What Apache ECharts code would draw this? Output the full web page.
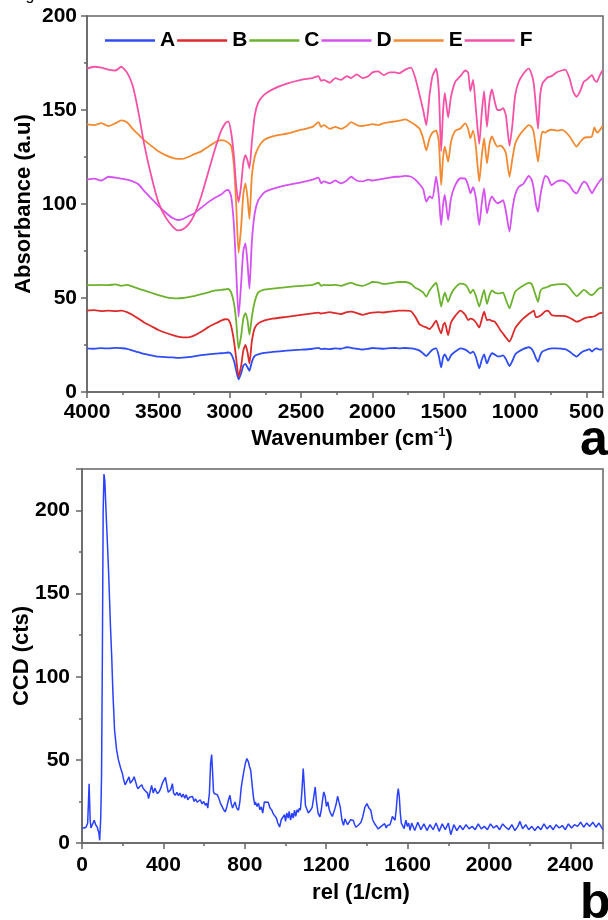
<!DOCTYPE html>
<html>
<head>
<meta charset="utf-8">
<script src="https://cdn.jsdelivr.net/npm/echarts@6/dist/echarts.min.js"></script>
<style>
  html, body { margin: 0; padding: 0; background: #fff; }
  #main { width: 608px; height: 920px; }
</style>
</head>
<body>
<div id="main"></div>
<script>
// FTIR (a): shared wavenumber grid, one absorbance list per sample
var wn = [4000,3950,3900,3850,3800,3760,3720,3680,3640,3600,
  3550,3500,3450,3400,3365,3330,3290,3250,3200,3150,
  3100,3060,3030,3010,2990,2970,2955,2938,2920,2905,
  2890,2875,2862,2845,2825,2800,2760,2700,2600,2500,
  2420,2378,2360,2340,2300,2260,2220,2180,2150,2110,
  2070,2030,2000,1960,1920,1880,1840,1814,1770,1730,
  1700,1670,1645,1623,1600,1580,1554,1535,1519,1505,
  1493,1470,1450,1420,1384,1350,1330,1314,1295,1275,
  1252,1235,1218,1198,1180,1163,1145,1125,1105,1085,
  1065,1040,1020,1000,975,945,905,885,870,855,
  840,825,810,790,770,745,710,675,650,620,
  595,570,545,520,500,480,462,445,428,410,
  389];

var sampleA = [23.2,23,23.3,23.2,23.5,23.3,23,22,21.2,20.3,
  19.5,18.8,18.5,18.4,18.2,18.3,18.6,19,19.6,20,
  20.4,20.6,20.8,21,20.2,16.5,11.5,6.7,10,14,
  14.9,13,11.3,16,19.2,20,20.8,21.3,22,22.5,
  23,23.5,22.8,23,22.8,23.2,23,23.8,23.5,23,
  22.6,23,23.4,23.2,23,23.3,23.4,23.2,23.4,23.2,
  22.8,22,20.5,19.1,21,22.5,23.2,19,13.1,18.5,
  20,16.7,19.5,21.5,23.2,22.5,21.5,20.6,21.5,18.5,
  12.6,17,20,15.2,18.5,20.6,20,19,19,19.5,
  17.5,13.8,16.5,20,21.5,22.8,23.8,23,21,18,
  16.1,19.5,21.5,22.2,22.8,23.2,23.2,23,22.8,21.5,
  20,18.8,20.5,21.8,22.3,22.8,21.5,22.8,23.2,22.5,
  22.8];

var sampleB = [43.3,43.5,43,43.3,43,43.3,42.5,41,39,37,
  35,33,31.5,30.2,29.5,29.1,29.1,30,32,34.5,
  36.5,38,38.7,38.5,35,27,18,8.2,14,22,
  25,21,15.2,27,34,36.5,38,39,40,41,
  41.8,42.2,41.7,42,42.5,42,41.5,42.5,42.7,42,
  41,41.8,42.2,42.5,42.3,42.7,43,43.3,43.3,43,
  40,36,35,34.4,33.5,35,37.9,34,31.2,35.5,
  36.9,30.3,37,40.5,43.3,41,38.3,39,38.5,37,
  34.4,38.5,42.7,38.3,38.5,37.8,37.5,35.5,33,31,
  29,26.8,30,34,36.5,39,41.5,42.5,43.3,39.8,
  40,40.5,41.5,43,43.3,41,40.5,40.5,40.4,39.5,
  38.5,37.4,38,39,39.5,39.8,40,40.3,41,41.8,
  42.2];

var sampleC = [57,56.8,57,56.8,57.3,56.5,57,56,55,54,
  52.8,51.5,50.5,49.9,49.8,50,50.5,51,52,53,
  54,54.3,54.6,54.8,53,47,38,23,30,39,
  42,38,30.5,40,48,53,54.5,55,55.8,56.5,
  57,58.1,56.5,57,56.8,57,56.5,57.5,58,57,
  56.5,57.5,58.5,58.3,57.5,57.8,58.3,58.5,58.5,57.5,
  55.5,54.3,53,50.7,54,56,58.1,52,45.4,50,
  52.8,48,52,55.5,57.6,57,55,52.5,54.5,51,
  45.4,50,54.3,46.8,51.5,54,53,52.5,52.5,52.8,
  49,44.5,49,53.4,55,56.5,58,57.5,54.5,51,
  48,53.5,55,55.5,56,56.8,57.3,57.4,57.4,55.5,
  53,51,52.5,54.3,53.5,52,51.6,52.5,54,55.2,
  55.5];

var sampleD = [113,113.5,112.5,114.5,114,113.5,113,112,110.5,107,
  103,99,95.5,92.5,91.5,92,93.5,95,98,101,
  103.5,105,107,107.5,104,88,65,40,58,75,
  79,68,55,80,95,102,106,108,110,111.5,
  113,114,111,112,111,112.5,111,112.5,114.5,112.5,
  112,113,112.5,113,113.5,114,114.5,114.5,115,114.5,
  113,110.5,108,101.2,104,103,114.5,104,88.8,100,
  104.8,91.5,103,110,113.7,113.5,110,105.7,109,103,
  88.8,100,108.3,95,101,104,102,100.4,101,102,
  96,85.3,97,105,109.2,110.5,114.9,113,108,100,
  95.9,104,110,115,114,110,112,112.5,112,110,
  107,105.7,109,111.9,111,108,105.7,108,110,112,
  113.7];

var sampleE = [142.3,142,143,141.5,143,144.5,143.5,140,137,134,
  131,128,126,124.5,124,124,125,126.5,128,130.5,
  133,134,133.5,132.5,131,120,100,74,88,105,
  111,103,92,115,125,130,134,136,137.5,139.5,
  141,143.5,141,142,140,141,140,141.5,143.5,142,
  141.5,142,142.5,142,143,143.5,144,144.3,145,143.5,
  142,140,135,128.5,135,138,139,133,110,125,
  130.5,122.5,133,139,140.2,142.9,140,135,139,130,
  112,125,135,121.6,132,136,133,130.5,131,130,
  127,114.5,124,132,136,139,142,141,138,130,
  122.5,132,138.5,138,139,139.5,139,139.4,138.5,136,
  133,130.5,133,135,135.5,135.5,136,140.8,138,139,
  141.5];

var sampleF = [172,173,172.5,171.5,171,173,170,163,149,132,
  115,101,93,88,86,86.5,89,94,104,117,
  130,139,143,144,138,125,110,101,110,122,
  126,123,119,133,147,154,158,161,164,166,
  167,168,165.5,166,164.5,167,166,168,167,169,
  167,168,170,170.5,168.5,170,170,169.5,171.5,172.5,
  167,158,150,142,158,168,172,160,128,150,
  159,146,157,165,168,171,170,160,166,150,
  132,148,160,141,155,161,155,150,150,151,
  147,131,142,158,165,169,172,169,164,152,
  140,158,164,166,167.5,168,170,171,171.5,167,
  160,157,160,165,166,167.5,168.5,166,165,168,
  171];

var sampleNames = ["A", "B", "C", "D", "E", "F"];
var sampleColors = ["#2f4cf5", "#dc2b2b", "#6db22f", "#d552f2", "#f28a32", "#f552a6"];
var sampleValues = [sampleA, sampleB, sampleC, sampleD, sampleE, sampleF];

// Raman (b): [shift, counts]
var raman = [[0,9],[10,9],[20,9.5],[28,12],[35,35.7],[40,14],[44,9],[52,10],[60,13.7],[67,11],
  [75,9.5],[83,6],[87,1.6],[92,15],[96,40],[100,110],[104,200],[108,222],[112,218],[118,200],
  [125,180],[131,162],[140,130],[146,112],[152,90],[160,68],[170,56],[179,50],[190,45],[198,42],
  [205,38],[212,35],[220,36],[231,39.8],[237,36],[242,37],[250,38],[256,39.8],[263,37],[270,34],
  [275,32.7],[284,34],[294,35],[300,33],[308,31.7],[316,32],[322,30],[327,26.7],[333,30],[342,34.7],
  [350,30],[358,33],[365,31],[371,29.7],[380,31],[387,33],[395,36],[403,38],[410,39.4],[418,34],
  [424,30.5],[429,29.7],[436,32],[444,35.7],[450,30],[458,28.7],[466,30.5],[474,28.5],[481,30],[490,27.5],
  [497,29.5],[505,27],[512,29],[520,26],[528,27.5],[535,26.7],[543,28],[551,25],[558,26.5],[566,24.5],
  [573,24.7],[581,26],[590,23.5],[598,25],[606,22.7],[612,24],[618,21],[621,20],[626,30],[632,48],
  [637,53.2],[642,42],[646,31],[650,29.7],[658,28.5],[665,29],[672,27],[680,24],[688,22],[696,20],
  [704,18.7],[712,22],[720,26],[727,28.7],[733,24],[740,21],[746,23],[752,24.7],[760,21],[769,19.7],
  [776,25],[782,33],[788,37.8],[795,43],[803,48],[810,50.8],[817,49],[823,46],[829,43.8],[836,35],
  [843,27],[849,23],[852,24.7],[860,22],[867,24],[874,20],[881,21.7],[888,18],[896,24.7],[905,25],
  [915,24.5],[924,21],[933,19.7],[940,17.5],[948,16.7],[955,15],[962,12],[971,9.6],[979,14],[987,15.5],
  [995,17],[1000,13],[1006,18],[1013,15],[1018,19],[1025,13.7],[1032,18],[1038,15],[1044,19.7],[1050,16],
  [1057,20],[1063,18.5],[1068,21],[1073,19.7],[1080,30],[1087,44.8],[1092,35],[1098,22.5],[1106,20],[1112,18],
  [1117,18.7],[1124,20],[1131,21.5],[1138,27],[1146,33.7],[1152,25],[1160,18],[1169,15.7],[1176,20],[1182,26],
  [1188,30.7],[1195,28],[1201,22],[1208,24.7],[1215,20],[1223,17.5],[1230,16],[1240,19.5],[1248,23],[1256,28.1],
  [1262,25],[1269,21.5],[1277,14],[1285,10.6],[1292,14.5],[1298,15.5],[1305,11],[1313,10.4],[1320,14],[1327,13],
  [1333,13.5],[1340,11],[1346,9.5],[1352,9.6],[1360,11],[1371,12.5],[1380,16],[1390,21.5],[1400,23.7],[1410,21],
  [1419,19.7],[1428,14],[1438,11.6],[1447,10],[1455,8.5],[1462,7.6],[1470,10],[1479,11],[1487,11.6],[1495,9],
  [1500,10.5],[1506,9.6],[1513,11],[1520,13.5],[1525,16],[1532,15],[1538,13.7],[1544,20],[1549,28],[1554,32.7],
  [1559,28],[1564,18],[1569,12],[1576,11],[1583,8.6],[1588,12],[1592,13.7],[1598,10],[1605,12],[1612,7.6],
  [1620,12],[1635,7.5],[1650,12.5],[1665,8],[1680,11.5],[1695,7.5],[1710,11],[1725,8],[1740,12],[1755,7],
  [1770,11.5],[1785,8],[1800,12],[1812,5],[1827,11],[1842,7.5],[1857,10.5],[1872,8],[1887,11],[1902,8.5],
  [1917,10],[1932,8],[1947,11.5],[1962,8.5],[1977,10],[1992,8],[2007,11.5],[2022,9],[2037,10.5],[2052,8],
  [2067,11.5],[2082,9.5],[2097,8],[2112,11],[2127,7.5],[2142,10],[2152,13],[2165,8.5],[2180,11],[2195,8],
  [2210,10],[2225,7.5],[2240,10],[2255,8],[2270,11.5],[2285,8.5],[2300,10.5],[2315,8],[2330,11],[2345,9],
  [2360,10.5],[2375,8],[2390,11.5],[2405,9],[2420,11],[2435,10],[2450,12.5],[2465,9.5],[2480,12],[2495,10],
  [2510,12.5],[2525,9.5],[2540,12],[2555,9],[2560,8]];

var FONT = '"Liberation Sans", Arial, sans-serif';
var frameColor = "#666";

function plainNumber(v) {
  return String(v);
}

function axisBase(extra) {
  var base = {
    type: "value",
    splitLine: { show: false },
    axisLine: { show: true, onZero: false, lineStyle: { color: frameColor, width: 1.5 } },
    axisTick: { show: true, inside: false, length: 6, lineStyle: { color: frameColor, width: 1.5 } },
    minorTick: { show: true, splitNumber: 2, length: 3, lineStyle: { color: frameColor, width: 1.5 } },
    axisLabel: { color: "#000", fontSize: 21, fontWeight: "bold", fontFamily: FONT, margin: 10, formatter: plainNumber }
  };
  for (var k in extra) {
    if (k === "axisLabel") {
      for (var j in extra[k]) base.axisLabel[j] = extra[k][j];
    } else base[k] = extra[k];
  }
  return base;
}

var series = [];
for (var s = 0; s < sampleNames.length; s++) {
  var pts = [];
  for (var i = 0; i < wn.length; i++) pts.push([wn[i], sampleValues[s][i]]);
  series.push({
    name: sampleNames[s],
    type: "line",
    xAxisIndex: 0,
    yAxisIndex: 0,
    data: pts,
    symbol: "none",
    smooth: 0.2,
    color: sampleColors[s],
    lineStyle: { width: 1.8, color: sampleColors[s] }
  });
}
series.push({
  name: "Raman",
  type: "line",
  xAxisIndex: 1,
  yAxisIndex: 1,
  data: raman,
  symbol: "none",
  color: "#2a40ff",
  lineStyle: { width: 1.5, color: "#2a40ff" }
});

var myChart = echarts.init(document.getElementById("main"));
var option = {
  animation: false,
  backgroundColor: "#fff",
  textStyle: { fontFamily: FONT },
  legend: {
    data: sampleNames,
    left: 100,
    top: 25,
    icon: "rect",
    itemWidth: 50,
    itemHeight: 2.5,
    itemGap: 2,
    textStyle: { color: "#000", fontSize: 21, fontWeight: "bold", fontFamily: FONT }
  },
  grid: [
    { left: 87, top: 16, width: 516, height: 376, show: true, borderColor: frameColor, borderWidth: 1.5, containLabel: false },
    { left: 82, top: 469, width: 521, height: 374, show: true, borderColor: frameColor, borderWidth: 1.5, containLabel: false }
  ],
  xAxis: [
    axisBase({ gridIndex: 0, inverse: true, min: 385, max: 4000, splitNumber: 7, axisLabel: { showMinLabel: false } }),
    axisBase({ gridIndex: 1, min: 0, max: 2560, interval: 400, axisLabel: { showMaxLabel: false, margin: 12 } })
  ],
  yAxis: [
    axisBase({ gridIndex: 0, min: 0, max: 200, interval: 50 }),
    axisBase({ gridIndex: 1, min: 0, max: 225, interval: 50, axisLabel: { showMaxLabel: false, margin: 12 } })
  ],
  graphic: [
    { type: "text", x: 30, y: 4, style: { text: "g", font: "16px " + FONT, fill: "#000", textAlign: "center", textVerticalAlign: "bottom" } },
    { type: "text", x: 24, y: 204, rotation: Math.PI / 2,
      style: { text: "Absorbance (a.u)", font: "bold 22px " + FONT, fill: "#000", textAlign: "center", textVerticalAlign: "middle" } },
    { type: "text", x: 352, y: 439,
      style: {
        text: "{n|Wavenumber (cm}{s|-1}{n|)}",
        fill: "#000", textAlign: "center", textVerticalAlign: "middle",
        rich: {
          n: { fontSize: 22, fontWeight: "bold", fontFamily: FONT, lineHeight: 26, fill: "#000" },
          s: { fontSize: 13, fontWeight: "bold", fontFamily: FONT, verticalAlign: "top", lineHeight: 26, fill: "#000" }
        }
      } },
    { type: "text", x: 580, y: 441, style: { text: "a", font: "bold 50px " + FONT, fill: "#000", textAlign: "left", textVerticalAlign: "middle" } },
    { type: "text", x: 22, y: 656, rotation: Math.PI / 2,
      style: { text: "CCD (cts)", font: "bold 22px " + FONT, fill: "#000", textAlign: "center", textVerticalAlign: "middle" } },
    { type: "text", x: 361, y: 893, style: { text: "rel (1/cm)", font: "bold 22px " + FONT, fill: "#000", textAlign: "center", textVerticalAlign: "middle" } },
    { type: "text", x: 580, y: 904, style: { text: "b", font: "bold 50px " + FONT, fill: "#000", textAlign: "left", textVerticalAlign: "middle" } }
  ],
  series: series
};
myChart.setOption(option);
</script>
</body>
</html>
